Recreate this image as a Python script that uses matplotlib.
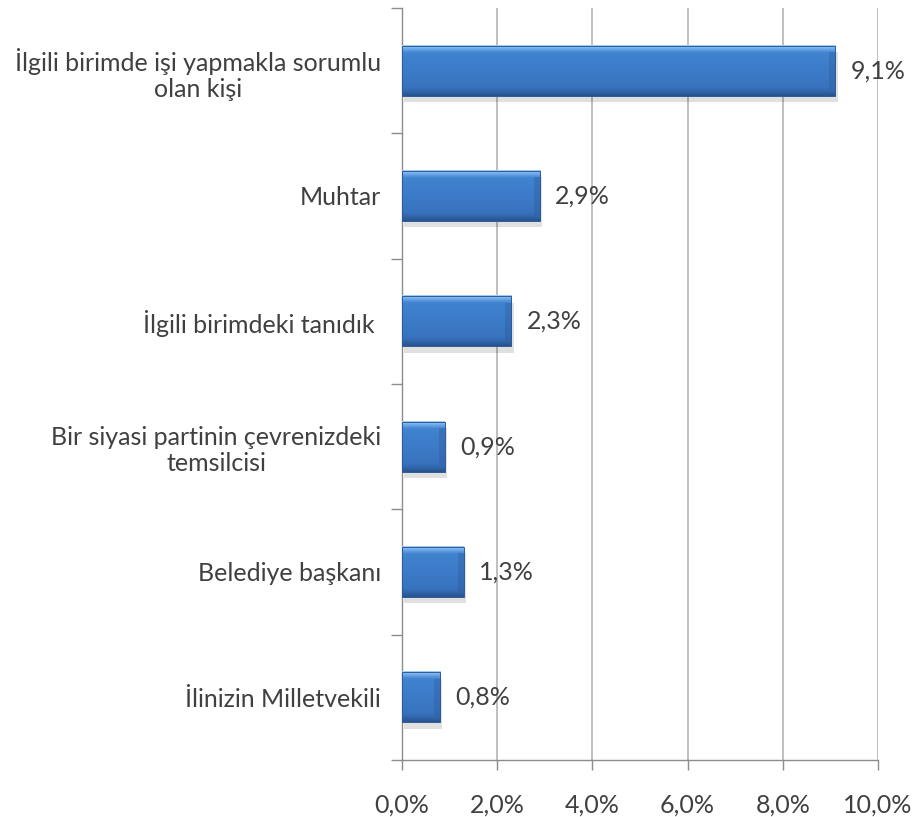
import numpy as np
import matplotlib
matplotlib.use("Agg")
import matplotlib.pyplot as plt
from matplotlib.colors import LinearSegmentedColormap
from matplotlib.patches import Rectangle
from matplotlib.ticker import FuncFormatter, MultipleLocator

# ---- data ----
categories = [
    "İlgili birimde işi yapmakla sorumlu\nolan kişi",
    "Muhtar",
    "İlgili birimdeki tanıdık ",
    "Bir siyasi partinin çevrenizdeki\ntemsilcisi",
    "Belediye başkanı",
    "İlinizin Milletvekili",
]
values = [9.1, 2.9, 2.3, 0.9, 1.3, 0.8]
value_labels = ["9,1%", "2,9%", "2,3%", "0,9%", "1,3%", "0,8%"]

plt.rcParams["font.family"] = ["Lato", "DejaVu Sans"]

TEXT = "#404040"
AXIS = "#8c8c8c"
GRID = "#b4b4b4"
BAR_H = 0.4
FS = 18

fig = plt.figure(figsize=(9.13, 8.17), dpi=100)
ax = fig.add_axes([0.4403, 0.0698, 0.5214, 0.9204])

# gradient for the bevelled bars (light top edge, flat body, dark bottom edge)
bar_cmap = LinearSegmentedColormap.from_list(
    "bevel", [(0.0, "#a4d0f8"), (0.07, "#6ea8ea"), (0.15, "#4083cf"),
              (0.5, "#3c7bc8"), (0.84, "#3872bd"), (0.92, "#3065aa"),
              (1.0, "#27528c")])
grad = np.linspace(0, 1, 128).reshape(-1, 1)

ypos = np.arange(len(categories))
for y, v, lab in zip(ypos, values, value_labels):
    # soft shadow
    ax.add_patch(Rectangle((0.05, y - BAR_H / 2 + 0.05), v, BAR_H,
                           facecolor="#000000", alpha=0.12, lw=0, zorder=2))
    ax.imshow(grad, extent=[0, v, y + BAR_H / 2, y - BAR_H / 2],
              aspect="auto", cmap=bar_cmap, zorder=3, interpolation="bilinear")
    # darker bevel at the right end
    ax.add_patch(Rectangle((v - 0.13, y - BAR_H / 2 + 0.05), 0.13, BAR_H - 0.1,
                           facecolor="#2a5a9a", alpha=0.35, lw=0, zorder=3.5))
    ax.add_patch(Rectangle((0, y - BAR_H / 2), v, BAR_H, facecolor="none",
                           edgecolor="#2d5b98", lw=0.7, zorder=4))
    ax.text(v + 0.32, y, lab, va="center", ha="left", fontsize=FS,
            color=TEXT, zorder=5)

ax.set_xlim(0, 10)
ax.set_ylim(len(categories) - 0.5, -0.5)

ax.xaxis.set_major_locator(MultipleLocator(2))
ax.xaxis.set_major_formatter(FuncFormatter(lambda x, p: f"{x:.1f}%".replace(".", ",")))
ax.grid(axis="x", color=GRID, lw=1.2, zorder=0)
ax.set_axisbelow(True)

ax.set_yticks(ypos)
ax.set_yticklabels(categories, fontsize=FS, color=TEXT, ha="right",
                   multialignment="center")
ax.set_yticks(np.arange(-0.5, len(categories)), minor=True)
ax.tick_params(axis="y", which="major", length=0, pad=15)
ax.tick_params(axis="y", which="minor", length=8, color=AXIS, width=1)
ax.tick_params(axis="x", length=7, color=AXIS, width=1, pad=17,
               labelsize=FS, labelcolor=TEXT)

for s in ["top", "right"]:
    ax.spines[s].set_visible(False)
for s in ["left", "bottom"]:
    ax.spines[s].set_color(AXIS)
    ax.spines[s].set_linewidth(1)

fig.savefig("out.png", dpi=100)
